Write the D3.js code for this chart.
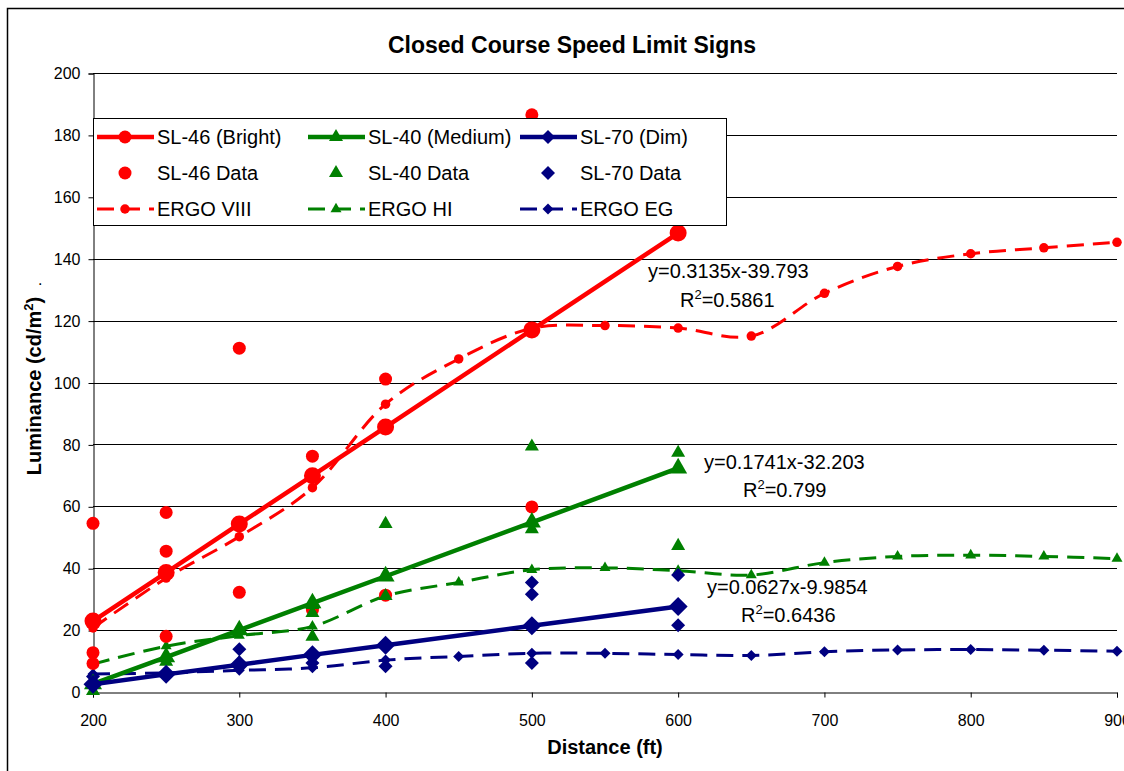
<!DOCTYPE html>
<html>
<head>
<meta charset="utf-8">
<script src="https://cdn.jsdelivr.net/npm/d3@7"></script>
<style>
  html, body { margin: 0; padding: 0; background: #fff; }
  text { font-family: "Liberation Sans", Arial, sans-serif; }
</style>
</head>
<body>
<div id="chart"></div>
<script>
// fitted trend lines (values at the marker positions)
const fitX = [200, 250, 300, 350, 400, 500, 600];
const sl46Fit = [22.9, 38.6, 54.3, 69.9, 85.6, 117.0, 148.3];
const sl40Fit = [2.6, 11.3, 20.0, 28.7, 37.4, 54.8, 72.3];
const sl70Fit = [2.5, 5.7, 8.8, 12.0, 15.1, 21.4, 27.6];

// measured data points [distance, luminance]
const sl46Data = [[200, 54.5], [200, 12.7], [200, 9.2], [250, 58.0], [250, 45.5], [250, 18.0],
  [300, 111.1], [300, 32.2], [350, 76.2], [350, 26.5], [400, 101.1], [400, 31.3],
  [500, 186.5], [500, 59.8]];
const sl40Data = [[200, 0.3], [250, 9.8], [300, 9.4], [350, 28.1], [350, 25.5], [350, 17.9],
  [400, 54.3], [400, 31.0], [500, 79.3], [500, 52.6], [600, 77.3], [600, 47.2]];
const sl70Data = [[200, 5.0], [200, 2.8], [300, 13.8], [300, 8.6], [350, 9.4], [400, 8.3],
  [500, 35.4], [500, 31.6], [500, 9.4], [600, 37.8], [600, 21.6]];

// ERGO reference curves
const ergoX = [200, 250, 300, 350, 400, 450, 500, 550, 600, 650, 700, 750, 800, 850, 900];
const ergoVIII = [20.7, 36.8, 50.2, 66.0, 93.0, 107.6, 117.5, 118.4, 117.6, 115.0, 128.8, 137.5, 141.6, 143.5, 145.3];
const ergoHI = [9.0, 14.8, 18.2, 21.2, 31.0, 35.4, 39.5, 40.1, 39.2, 37.8, 41.8, 43.8, 44.2, 43.8, 43.1];
const ergoEG = [5.8, 6.2, 7.0, 7.8, 10.3, 11.5, 12.5, 12.5, 12.1, 11.8, 13.0, 13.6, 13.7, 13.5, 13.2];

const yTicks = [0, 20, 40, 60, 80, 100, 120, 140, 160, 180, 200];
const xTicks = [200, 300, 400, 500, 600, 700, 800, 900];

const fitLabels = [
  { eq: 'y=0.3135x-39.793', r2: '0.5861', x: 648, y: 278, rx: 680, ry: 307 },
  { eq: 'y=0.1741x-32.203', r2: '0.799', x: 704, y: 469, rx: 743, ry: 497 },
  { eq: 'y=0.0627x-9.9854', r2: '0.6436', x: 707, y: 594, rx: 741, ry: 622 }
];

const red = '#FF0000', green = '#008000', navy = '#000080';

const width = 1124, height = 771;
const svg = d3.select('#chart').append('svg')
  .attr('width', width)
  .attr('height', height);

// outer chart frame (runs off the right and bottom edges)
svg.append('rect')
  .attr('x', 7.5).attr('y', 8.5)
  .attr('width', 1200).attr('height', 900)
  .attr('fill', 'white').attr('stroke', 'black').attr('stroke-width', 1.5);

const x = d3.scaleLinear().domain([200, 900]).range([93, 1117]);
const y = d3.scaleLinear().domain([0, 200]).range([692, 73]);

// gridlines
svg.append('g').selectAll('line')
  .data(yTicks.filter(d => d > 0))
  .enter().append('line')
  .attr('x1', x(200)).attr('x2', x(900))
  .attr('y1', d => Math.round(y(d)) + 0.5).attr('y2', d => Math.round(y(d)) + 0.5)
  .attr('stroke', 'black').attr('stroke-width', 1);

// axes
const yAxis = svg.append('g')
  .attr('transform', 'translate(' + (x(200) + 0.5) + ',0.5)')
  .call(d3.axisLeft(y).tickValues(yTicks).tickSize(5).tickPadding(8));
const xAxis = svg.append('g')
  .attr('transform', 'translate(0,' + (Math.round(y(0)) + 0.5) + ')')
  .call(d3.axisBottom(x).tickValues(xTicks).tickSize(5).tickPadding(17));
[yAxis, xAxis].forEach(g => {
  g.select('.domain').attr('stroke', 'black');
  g.selectAll('.tick line').attr('stroke', 'black');
  g.selectAll('.tick text')
    .attr('fill', 'black')
    .style('font-size', '16px')
    .style('font-family', '"Liberation Sans", Arial, sans-serif');
});

// titles
svg.append('text')
  .attr('x', 572).attr('y', 53)
  .attr('text-anchor', 'middle')
  .style('font-size', '23px').style('font-weight', 'bold')
  .text('Closed Course Speed Limit Signs');

svg.append('text')
  .attr('x', 605).attr('y', 754)
  .attr('text-anchor', 'middle')
  .style('font-size', '20px').style('font-weight', 'bold')
  .text('Distance (ft)');

const yTitle = svg.append('text')
  .attr('transform', 'translate(41,386) rotate(-90)')
  .attr('text-anchor', 'middle')
  .style('font-size', '20px').style('font-weight', 'bold');
yTitle.append('tspan').text('Luminance (cd/m');
yTitle.append('tspan').attr('dy', -8).style('font-size', '13px').text('2');
yTitle.append('tspan').attr('dy', 8).text(')');
svg.append('text').attr('x', 38).attr('y', 285).style('font-size', '16px').text('.');

// symbol helpers
const diamondPath = function(size) {
  const h = size / 2;
  return 'M0,' + (-h) + 'L' + h + ',0L0,' + h + 'L' + (-h) + ',0Z';
};
function markerPath(kind, size) {
  if (kind === 'circle') return d3.symbol(d3.symbolCircle, Math.PI * size * size / 4)();
  if (kind === 'triangle') return d3.symbol(d3.symbolTriangle, Math.sqrt(3) / 4 * size * size)();
  return diamondPath(size);
}

const series = [
  { name: 'SL-46 (Bright)', color: red, kind: 'circle', type: 'fit' },
  { name: 'SL-40 (Medium)', color: green, kind: 'triangle', type: 'fit' },
  { name: 'SL-70 (Dim)', color: navy, kind: 'diamond', type: 'fit' },
  { name: 'SL-46 Data', color: red, kind: 'circle', type: 'data' },
  { name: 'SL-40 Data', color: green, kind: 'triangle', type: 'data' },
  { name: 'SL-70 Data', color: navy, kind: 'diamond', type: 'data' },
  { name: 'ERGO VIII', color: red, kind: 'circle', type: 'ergo' },
  { name: 'ERGO HI', color: green, kind: 'triangle', type: 'ergo' },
  { name: 'ERGO EG', color: navy, kind: 'diamond', type: 'ergo' }
];
const markSize = { fit: { circle: 17, triangle: 18, diamond: 19 },
                   data: { circle: 13, triangle: 14, diamond: 14 },
                   ergo: { circle: 9.5, triangle: 11, diamond: 11 } };

const plot = svg.append('g');

// ERGO smoothed dashed curves
const ergoLine = d3.line()
  .x((d, i) => x(ergoX[i])).y(d => y(d))
  .curve(d3.curveCatmullRom.alpha(0.5));
[[ergoVIII, red, 'circle'], [ergoHI, green, 'triangle'], [ergoEG, navy, 'diamond']].forEach(function(s) {
  plot.append('path')
    .datum(s[0])
    .attr('d', ergoLine)
    .attr('fill', 'none')
    .attr('stroke', s[1]).attr('stroke-width', 3)
    .attr('stroke-dasharray', '17,9');
  plot.selectAll(null)
    .data(s[0])
    .enter().append('path')
    .attr('transform', (d, i) => 'translate(' + x(ergoX[i]) + ',' + y(d) + ')')
    .attr('d', markerPath(s[2], markSize.ergo[s[2]]))
    .attr('fill', s[1]);
});

// measured data
[[sl46Data, red, 'circle'], [sl40Data, green, 'triangle'], [sl70Data, navy, 'diamond']].forEach(function(s) {
  plot.selectAll(null)
    .data(s[0])
    .enter().append('path')
    .attr('transform', d => 'translate(' + x(d[0]) + ',' + y(d[1]) + ')')
    .attr('d', markerPath(s[2], markSize.data[s[2]]))
    .attr('fill', s[1]);
});

// fit lines
const fitLine = d3.line().x((d, i) => x(fitX[i])).y(d => y(d));
[[sl46Fit, red, 'circle'], [sl40Fit, green, 'triangle'], [sl70Fit, navy, 'diamond']].forEach(function(s) {
  plot.append('path')
    .datum(s[0])
    .attr('d', fitLine)
    .attr('fill', 'none')
    .attr('stroke', s[1]).attr('stroke-width', 4.5);
  plot.selectAll(null)
    .data(s[0])
    .enter().append('path')
    .attr('transform', (d, i) => 'translate(' + x(fitX[i]) + ',' + y(d) + ')')
    .attr('d', markerPath(s[2], markSize.fit[s[2]]))
    .attr('fill', s[1]);
});

// trend line labels
fitLabels.forEach(function(f) {
  svg.append('text').attr('x', f.x).attr('y', f.y)
    .style('font-size', '20px').text(f.eq);
  const t = svg.append('text').attr('x', f.rx).attr('y', f.ry).style('font-size', '20px');
  t.append('tspan').text('R');
  t.append('tspan').attr('dy', -8).style('font-size', '13px').text('2');
  t.append('tspan').attr('dy', 8).text('=' + f.r2);
});

// legend
const legend = svg.append('g');
legend.append('rect')
  .attr('x', 93.5).attr('y', 118.5).attr('width', 633).attr('height', 107)
  .attr('fill', 'white').attr('stroke', 'black').attr('stroke-width', 1);
const colX = [97, 308, 520];
const rowY = [137, 173, 209];
series.forEach(function(s, i) {
  const cx = colX[i % 3], cy = rowY[Math.floor(i / 3)];
  const g = legend.append('g');
  if (s.type !== 'data') {
    g.append('line')
      .attr('x1', cx).attr('x2', cx + 57).attr('y1', cy).attr('y2', cy)
      .attr('stroke', s.color)
      .attr('stroke-width', s.type === 'fit' ? 4.5 : 3)
      .attr('stroke-dasharray', s.type === 'ergo' ? '17,9' : null);
  }
  g.append('path')
    .attr('transform', 'translate(' + (cx + 28) + ',' + cy + ')')
    .attr('d', markerPath(s.kind, markSize[s.type === 'ergo' ? 'ergo' : 'data'][s.kind]))
    .attr('fill', s.color);
  g.append('text')
    .attr('x', cx + 60).attr('y', cy + 7)
    .style('font-size', '20px')
    .text(s.name);
});
</script>
</body>
</html>
